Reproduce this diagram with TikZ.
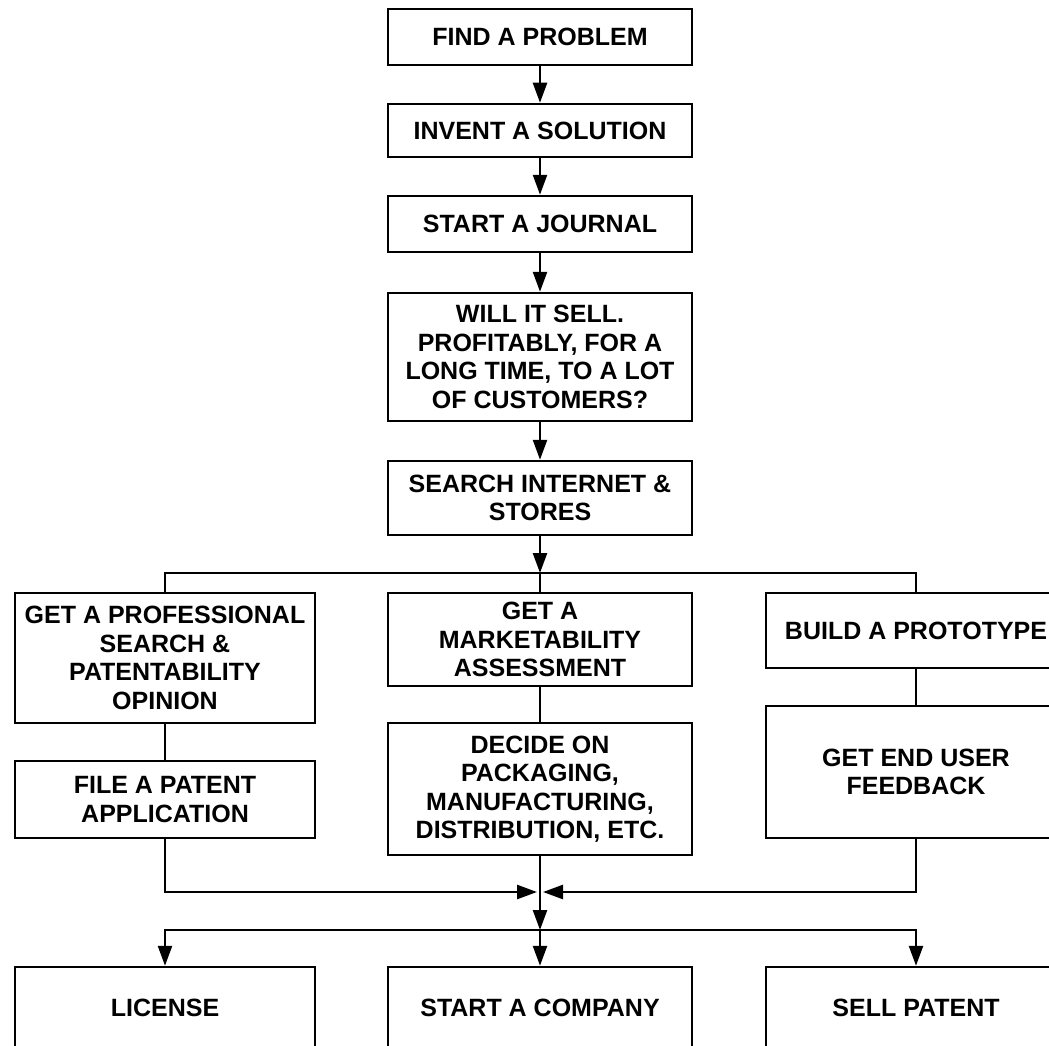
\documentclass[tikz,border=0pt]{standalone}
\usepackage{fontspec}
\setmainfont{Liberation Sans}
\usetikzlibrary{arrows.meta}
\begin{document}
\begin{tikzpicture}[x=1pt,y=-1pt,
  box/.style={draw, line width=2.5pt, align=center, inner sep=0pt,
    font=\bfseries\fontsize{25}{28.5}\selectfont},
  midbox/.style={box, minimum width=304pt},
  sidebox/.style={box, minimum width=300pt},
  link/.style={line width=2.5pt},
  arr/.style={line width=2.5pt, -{Triangle[length=20pt,width=14pt]}}]
\useasboundingbox (0,0) rectangle (1049,1046);
\clip (0,0) rectangle (1049,1046);
\fill[white] (0,0) rectangle (1049,1046);
% main column
\node[midbox, minimum height=56pt] (find) at (540,37) {FIND A PROBLEM};
\node[midbox, minimum height=53pt] (invent) at (540,130.5) {INVENT A SOLUTION};
\node[midbox, minimum height=56pt] (journal) at (540,224) {START A JOURNAL};
\node[midbox, minimum height=128pt] (sell) at (540,357) {WILL IT SELL.\\PROFITABLY, FOR A\\LONG TIME, TO A LOT\\OF CUSTOMERS?};
\node[midbox, minimum height=74pt] (search) at (540,498) {SEARCH INTERNET \&\\STORES};
% branches
\node[sidebox, minimum height=130pt] (prof) at (165,658) {GET A PROFESSIONAL\\SEARCH \&\\PATENTABILITY\\OPINION};
\node[sidebox, minimum height=77pt] (patent) at (165,799.5) {FILE A PATENT\\APPLICATION};
\node[midbox, minimum height=93pt] (market) at (540,639.5) {GET A\\MARKETABILITY\\ASSESSMENT};
\node[midbox, minimum height=132pt] (decide) at (540,789) {DECIDE ON\\PACKAGING,\\MANUFACTURING,\\DISTRIBUTION, ETC.};
\node[sidebox, minimum height=75pt] (proto) at (916,630.5) {BUILD A PROTOTYPE};
\node[sidebox, minimum height=132pt] (feedback) at (916,772) {GET END USER\\FEEDBACK};
% outcomes
\node[sidebox, minimum height=82pt] (license) at (165,1008) {LICENSE};
\node[midbox, minimum height=82pt] (company) at (540,1008) {START A COMPANY};
\node[sidebox, minimum height=82pt] (sellp) at (916,1008) {SELL PATENT};
% junctions
\coordinate (split) at (540,573);
\coordinate (merge) at (540,892);
\coordinate (dist) at (540,930);
% connectors
\draw[arr] (find.south) -- (invent.north);
\draw[arr] (invent.south) -- (journal.north);
\draw[arr] (journal.south) -- (sell.north);
\draw[arr] (sell.south) -- (search.north);
\draw[arr] (search.south) -- (split);
\draw[link] (split) -| (prof.north);
\draw[link] (split) -| (proto.north);
\draw[link] (split) -- (market.north);
\draw[link] (prof.south) -- (patent.north);
\draw[link] (market.south) -- (decide.north);
\draw[link] (proto.south) -- (feedback.north);
\draw[arr] (patent.south) |- ([xshift=-3pt]merge);
\draw[arr] (feedback.south) |- ([xshift=3pt]merge);
\draw[arr] (decide.south) -- (dist);
\draw[arr] (dist) -| (license.north);
\draw[arr] (dist) -| (sellp.north);
\draw[arr] (dist) -- (company.north);
\end{tikzpicture}
\end{document}
